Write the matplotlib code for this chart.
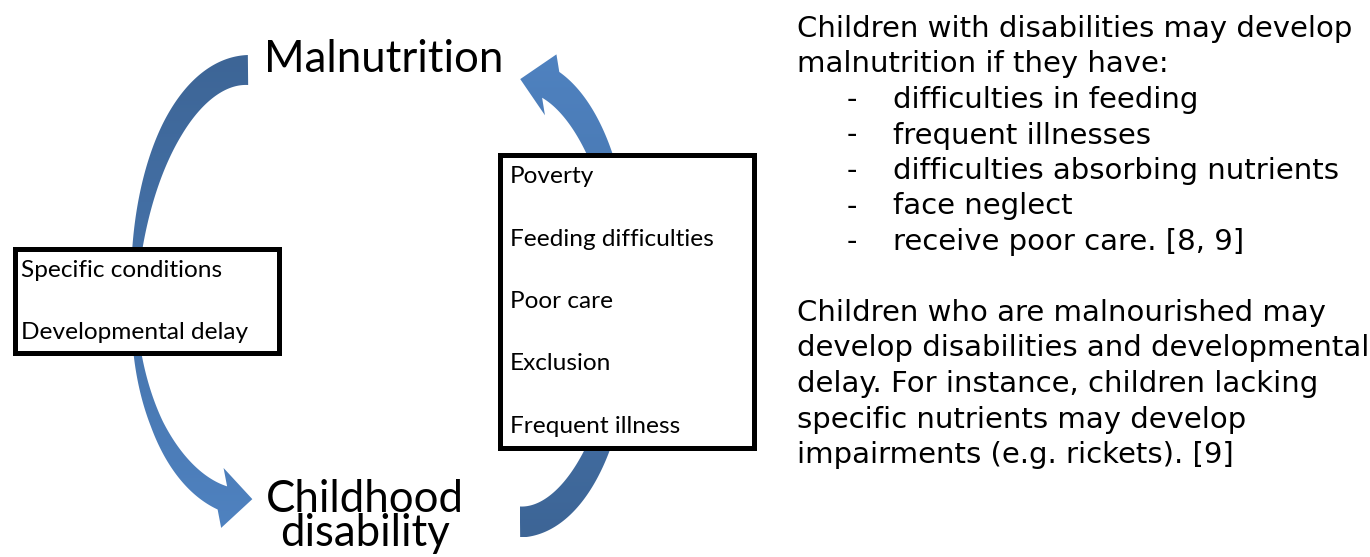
import numpy as np
import matplotlib
matplotlib.use("Agg")
import matplotlib.pyplot as plt
from matplotlib.patches import Polygon, Rectangle
from matplotlib.colors import LinearSegmentedColormap

# ---- content ----
TOP_NODE = "Malnutrition"
BOTTOM_NODE = ["Childhood", "disability"]
LEFT_FACTORS = ["Specific conditions", "Developmental delay"]
RIGHT_FACTORS = ["Poverty", "Feeding difficulties", "Poor care", "Exclusion", "Frequent illness"]
INTRO = ["Children with disabilities may develop", "malnutrition if they have:"]
BULLETS = ["difficulties in feeding", "frequent illnesses", "difficulties absorbing nutrients",
           "face neglect", "receive poor care. [8, 9]"]
OUTRO = ["Children who are malnourished may", "develop disabilities and developmental",
         "delay. For instance, children lacking", "specific nutrients may develop",
         "impairments (e.g. rickets). [9]"]

DARK = "#3d6596"; LIGHT = "#4f82c0"
BOX_FONT = "Lato"; BODY_FONT = "DejaVu Sans"

W, H = 1370, 557
fig = plt.figure(figsize=(W / 100, H / 100), dpi=100)
ax = fig.add_axes([0, 0, 1, 1])
ax.set_xlim(0, W); ax.set_ylim(H, 0); ax.axis("off")
R = fig.canvas.get_renderer()


def fit(txt, fam, width):
    t = ax.text(0, 0, txt, fontsize=20, family=fam)
    w = t.get_window_extent(R).width
    t.remove()
    return 20 * width / w


def curved_arrow(cx, cy, rx, ry_up, ry_lo, t0, t1, ws, ww, head_len, head_half, rot):
    t = np.radians(np.linspace(t0, t1, 300))
    ry = np.where(np.sin(t) < 0, ry_up, ry_lo)
    p = np.c_[cx + rx * np.cos(t), cy + ry * np.sin(t)]
    d = np.gradient(p, axis=0)
    seg = np.r_[0, np.cumsum(np.hypot(*np.diff(p, axis=0).T))]
    s = seg / seg[-1]
    d /= np.hypot(d[:, 0], d[:, 1])[:, None]
    nrm = np.c_[-d[:, 1], d[:, 0]]
    w = np.interp(s, ws, ww)
    a = p + nrm * w[:, None] / 2
    b = p - nrm * w[:, None] / 2
    ang = np.arctan2(d[-1, 1], d[-1, 0]) + np.radians(rot)
    hd = np.array([np.cos(ang), np.sin(ang)])
    hn = np.array([-hd[1], hd[0]])
    base = p[-1]
    head = [base + hn * head_half, base + hd * head_len, base - hn * head_half]
    return np.vstack([a, head, b[::-1]])


def gradient_fill(poly, top, bottom, z=1):
    patch = Polygon(poly, closed=True, facecolor="none", edgecolor="none", zorder=z)
    ax.add_patch(patch)
    cmap = LinearSegmentedColormap.from_list("g", [top, bottom])
    x0, y0 = poly.min(axis=0); x1, y1 = poly.max(axis=0)
    im = ax.imshow(np.linspace(0, 1, 256)[:, None], cmap=cmap, aspect="auto",
                   extent=(x0, x1, y1, y0), zorder=z, interpolation="bilinear")
    im.set_clip_path(patch)


# left arrow: Malnutrition -> Childhood disability
left = curved_arrow(248, 305, 114, 235, 198, 270, 103,
                    [0, 0.2, 0.45, 0.63, 0.8, 1], [30, 22, 10, 7, 13, 25], 30, 30, -20)
gradient_fill(left, DARK, LIGHT)
# right arrow: Childhood disability -> Malnutrition
right = curved_arrow(520, 300, 105, 225, 222, 90, -73,
                     [0, 0.29, 0.8, 1], [31, 21, 23, 31], 31, 31, -23)
gradient_fill(right, LIGHT, DARK)
ax.set_xlim(0, W); ax.set_ylim(H, 0)

# boxes
ax.add_patch(Rectangle((15, 248.5), 264.5, 104, facecolor="white", edgecolor="black",
                       lw=3.6, joinstyle="miter", zorder=3))
ax.add_patch(Rectangle((500.5, 154.5), 254, 293, facecolor="white", edgecolor="black",
                       lw=3.6, joinstyle="miter", zorder=3))

# node labels
fs_node = fit(TOP_NODE, BOX_FONT, 240)
ax.text(264, 72, TOP_NODE, fontsize=fs_node, family=BOX_FONT, va="baseline", zorder=4)
ax.text(365, 546, "\n".join(BOTTOM_NODE), fontsize=fs_node, family=BOX_FONT, ha="center",
        va="baseline", multialignment="center", linespacing=0.8, zorder=4)

# box labels
fs_box = fit(LEFT_FACTORS[1], BOX_FONT, 227)
for i, lab in enumerate(LEFT_FACTORS):
    ax.text(21, 277 + 62 * i, lab, fontsize=fs_box, family=BOX_FONT, va="baseline", zorder=4)
for i, lab in enumerate(RIGHT_FACTORS):
    ax.text(510, 183 + 62.5 * i, lab, fontsize=fs_box, family=BOX_FONT, va="baseline", zorder=4)

# explanatory text
fs_body = fit(INTRO[0], BODY_FONT, 555)
LH = 35.5
y = 37
for ln in INTRO:
    ax.text(797, y, ln, fontsize=fs_body, family=BODY_FONT, va="baseline"); y += LH
for ln in BULLETS:
    ax.text(847, y, "-", fontsize=fs_body, family=BODY_FONT, va="baseline")
    ax.text(893, y, ln, fontsize=fs_body, family=BODY_FONT, va="baseline"); y += LH
y += LH
for ln in OUTRO:
    ax.text(797, y, ln, fontsize=fs_body, family=BODY_FONT, va="baseline"); y += LH

fig.savefig("out.png", dpi=100)
